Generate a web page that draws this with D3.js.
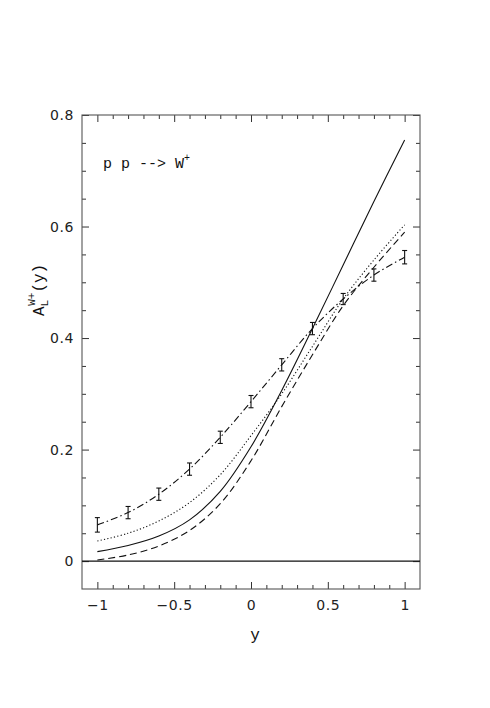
<!DOCTYPE html>
<html>
<head>
<meta charset="utf-8">
<script src="https://cdn.jsdelivr.net/npm/d3@7"></script>
<style>
  body { margin: 0; background: #fff; }
  .tick text { font-family: "DejaVu Sans", sans-serif; font-size: 14px; fill: #222; letter-spacing: 0.6px; }
  .lbl { font-family: "Liberation Mono", monospace; fill: #111; }
</style>
</head>
<body>
<div id="chart"></div>
<script>
// rapidity grid
var yGrid = [-1, -0.8, -0.6, -0.4, -0.2, 0, 0.2, 0.4, 0.6, 0.8, 1];

// curves
var solidVals  = [0.017, 0.028, 0.045, 0.074, 0.125, 0.205, 0.306, 0.417, 0.531, 0.645, 0.755];
var dashedVals = [0.002, 0.011, 0.027, 0.055, 0.103, 0.180, 0.277, 0.370, 0.458, 0.527, 0.590];
var dottedVals = [0.036, 0.050, 0.072, 0.105, 0.155, 0.225, 0.300, 0.385, 0.470, 0.540, 0.603];

// dash-dot curve with error bars
var pointVals = [0.065, 0.087, 0.120, 0.165, 0.222, 0.286, 0.352, 0.417, 0.470, 0.513, 0.545];
var pointErrs = [0.013, 0.011, 0.011, 0.011, 0.011, 0.011, 0.011, 0.011, 0.010, 0.011, 0.012];

// ticks
var xMajor = [-1, -0.5, 0, 0.5, 1];
var xTickLabels = ["\u22121", "\u22120.5", "0", "0.5", "1"];
var xMinor = [-0.9, -0.8, -0.7, -0.6, -0.4, -0.3, -0.2, -0.1, 0.1, 0.2, 0.3, 0.4, 0.6, 0.7, 0.8, 0.9];
var yMajor = [0, 0.2, 0.4, 0.6, 0.8];
var yTickLabels = ["0", "0.2", "0.4", "0.6", "0.8"];
var yMinor = [0.05, 0.1, 0.15, 0.25, 0.3, 0.35, 0.45, 0.5, 0.55, 0.65, 0.7, 0.75];

function drawChart() {

  var svgWidth = 490, svgHeight = 708;
  var margin = { top: 115, right: 70, bottom: 119, left: 82 };
  var x0 = margin.left, x1 = svgWidth - margin.right;
  var y0 = margin.top, y1 = svgHeight - margin.bottom;

  var svg = d3.select("#chart").append("svg")
      .attr("width", svgWidth)
      .attr("height", svgHeight);

  var x = d3.scaleLinear().domain([-1.1, 1.1]).range([x0, x1]);
  var y = d3.scaleLinear().domain([-0.05, 0.8]).range([y1, y0]);

  function addAxis(axisFn, scale, vals, size, labels, transform) {
    var ax = axisFn(scale).tickValues(vals).tickSize(size).tickSizeOuter(0);
    if (labels) {
      ax.tickFormat(function(d, i) { return labels[i]; });
    } else {
      ax.tickFormat("");
    }
    var g = svg.append("g").attr("transform", transform).call(ax);
    g.select(".domain").remove();
    g.selectAll(".tick line").attr("stroke", "#333");
    return g;
  }

  // bottom
  addAxis(d3.axisBottom, x, xMinor, -4, null, `translate(0,${y1})`);
  addAxis(d3.axisBottom, x, xMajor, -7, xTickLabels, `translate(0,${y1})`)
    .call(g => g.selectAll(".tick text").attr("y", 11));
  // top
  addAxis(d3.axisTop, x, xMinor, -4, null, `translate(0,${y0})`);
  addAxis(d3.axisTop, x, xMajor, -7, null, `translate(0,${y0})`);
  // left
  addAxis(d3.axisLeft, y, yMinor, -4, null, `translate(${x0},0)`);
  addAxis(d3.axisLeft, y, yMajor, -7, yTickLabels, `translate(${x0},0)`)
    .call(g => g.selectAll(".tick text").attr("x", -8));
  // right
  addAxis(d3.axisRight, y, yMinor, -4, null, `translate(${x1},0)`);
  addAxis(d3.axisRight, y, yMajor, -7, null, `translate(${x1},0)`);

  // frame
  svg.append("rect")
    .attr("x", x0).attr("y", y0)
    .attr("width", x1 - x0).attr("height", y1 - y0)
    .attr("fill", "none").attr("stroke", "#555").attr("stroke-width", 1.1);

  // zero line
  svg.append("line")
    .attr("x1", x0).attr("x2", x1)
    .attr("y1", y(0)).attr("y2", y(0))
    .attr("stroke", "#111").attr("stroke-width", 1.1);

  var line = d3.line()
    .x(d => x(d[0]))
    .y(d => y(d[1]))
    .curve(d3.curveCatmullRom);

  function drawCurve(vals, dash) {
    svg.append("path")
      .datum(yGrid.map((v, i) => [v, vals[i]]))
      .attr("d", line)
      .attr("fill", "none")
      .attr("stroke", "#111")
      .attr("stroke-width", 1.1)
      .attr("stroke-dasharray", dash);
  }

  drawCurve(solidVals, null);
  drawCurve(dashedVals, "7,4");
  drawCurve(dottedVals, "1.2,2.2");
  drawCurve(pointVals, "7,3,1.5,3");

  // error bars
  var bars = svg.append("g").selectAll("g")
    .data(yGrid.map((v, i) => ({ x: v, y: pointVals[i], e: pointErrs[i] })))
    .enter().append("g")
    .attr("stroke", "#111").attr("stroke-width", 1.1);

  bars.append("line")
    .attr("x1", d => x(d.x)).attr("x2", d => x(d.x))
    .attr("y1", d => y(d.y - d.e)).attr("y2", d => y(d.y + d.e));
  bars.append("line")
    .attr("x1", d => x(d.x) - 2.5).attr("x2", d => x(d.x) + 2.5)
    .attr("y1", d => y(d.y - d.e)).attr("y2", d => y(d.y - d.e));
  bars.append("line")
    .attr("x1", d => x(d.x) - 2.5).attr("x2", d => x(d.x) + 2.5)
    .attr("y1", d => y(d.y + d.e)).attr("y2", d => y(d.y + d.e));

  // process label
  var proc = svg.append("text").attr("class", "lbl")
    .attr("x", 103).attr("y", 168)
    .attr("font-size", "15px")
    .attr("xml:space", "preserve");
  proc.append("tspan").text("p p --> W");
  proc.append("tspan").attr("dy", -7).attr("font-size", "10px").text("+");

  // y axis label
  var yl = svg.append("text").attr("class", "lbl")
    .attr("transform", "translate(44,316) rotate(-90)")
    .attr("font-size", "16px");
  yl.append("tspan").text("A");
  yl.append("tspan").attr("dy", 4).attr("font-size", "11px").text("L");
  yl.append("tspan").attr("dx", -6).attr("dy", -13).attr("font-size", "11px").text("W+");
  yl.append("tspan").attr("dy", 9).text("(y)");

  // x axis label
  svg.append("text").attr("class", "lbl")
    .attr("x", 255).attr("y", 640)
    .attr("text-anchor", "middle")
    .attr("font-size", "16px")
    .text("y");
}

drawChart();
</script>
</body>
</html>
